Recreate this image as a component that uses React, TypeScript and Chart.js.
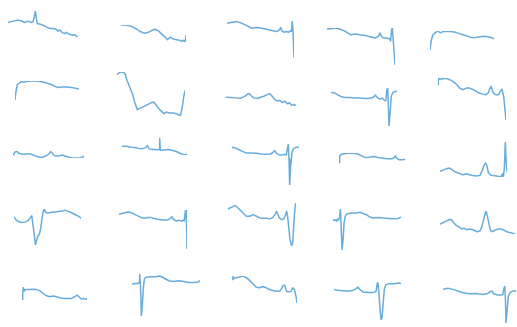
import React, { useEffect, useRef } from "react";
import { Chart, registerables } from "chart.js";

Chart.register(...registerables);

// Each beat is a list of [sample, amplitude] pairs, baseline-relative.
type Pt = [number, number];

const beat01: Pt[] = [[0,0],[15,4],[30,7],[40,5],[50,0],[60,4],[70,0],[75,2],[79,17],[82,34],[85,12],[88,-3],[100,-6],[115,-13],[125,-18],[135,-18],[145,-20],[150,-26],[155,-22],[163,-30],[170,-33],[175,-29],[183,-35],[190,-36],[195,-38],[200,-36],[205,-41],[210,-43]];
const beat02: Pt[] = [[0,0],[18,-1],[33,-5],[48,-13],[58,-20],[70,-25],[83,-22],[93,-17],[103,-13],[113,-18],[123,-28],[133,-37],[140,-45],[148,-37],[158,-43],[168,-45],[178,-47],[183,-50],[188,-47],[193,-52],[196,-33]];
const beat03: Pt[] = [[0,0],[15,3],[30,5],[45,0],[60,-7],[75,-15],[90,-13],[105,-15],[120,-18],[135,-22],[150,-25],[158,-20],[162,-13],[166,-23],[172,-27],[180,-25],[186,-27],[190,-23],[194,-25],[197,7],[199,-25],[202,-105]];
const beat04: Pt[] = [[0,0],[13,1],[28,3],[43,-2],[58,-9],[70,-17],[83,-15],[98,-17],[113,-19],[128,-23],[143,-27],[153,-22],[158,-12],[163,-22],[168,-27],[178,-27],[186,-29],[190,-35],[193,-2],[195,3],[198,-37],[203,-107]];
const beat05: Pt[] = [[0,0],[3,25],[8,45],[16,53],[23,58],[31,52],[38,56],[53,57],[73,55],[88,50],[103,45],[118,40],[131,37],[143,40],[163,42],[183,38],[191,34]];
const beat06: Pt[] = [[0,0],[3,25],[7,45],[13,50],[20,55],[27,52],[35,55],[50,56],[65,56],[80,54],[95,50],[110,45],[120,40],[130,37],[140,38],[155,38],[170,37],[180,35],[192,32]];
const beat07: Pt[] = [[0,0],[8,6],[18,7],[24,2],[30,-18],[40,-43],[48,-63],[53,-83],[61,-106],[73,-100],[88,-93],[103,-85],[110,-83],[118,-93],[128,-106],[141,-118],[148,-113],[158,-116],[168,-116],[178,-118],[190,-125],[196,-98],[200,-68],[204,-50]];
const beat08: Pt[] = [[0,0],[13,-1],[28,-2],[43,-3],[53,1],[63,8],[68,13],[75,5],[83,-2],[93,-4],[103,0],[113,3],[123,8],[131,11],[138,3],[145,-7],[153,-11],[161,-10],[168,-17],[175,-12],[183,-20],[190,-17],[196,-25],[203,-22],[209,-27]];
const beat09: Pt[] = [[0,0],[12,-2],[22,-8],[32,-13],[42,-15],[57,-15],[72,-17],[87,-17],[102,-18],[112,-18],[122,-17],[129,-13],[134,-8],[139,-15],[147,-20],[155,-17],[160,-23],[165,-25],[169,10],[171,13],[173,-40],[175,-100],[179,-50],[182,-10],[187,0],[193,2],[199,3]];
const beat10: Pt[] = [[0,0],[1,20],[5,16],[15,18],[25,19],[35,15],[45,10],[55,2],[65,-10],[75,-15],[85,-10],[95,-10],[108,-15],[120,-23],[135,-28],[145,-30],[152,-23],[157,-10],[160,-5],[163,-15],[167,-25],[175,-30],[182,-30],[188,-20],[193,-13],[198,-35],[202,-75],[205,-105]];
const beat11: Pt[] = [[0,0],[5,8],[10,12],[18,5],[28,2],[40,3],[50,4],[60,0],[70,-4],[80,-7],[90,-6],[100,-2],[107,3],[112,10],[117,6],[123,-2],[132,-3],[140,-2],[147,0],[155,-3],[165,-6],[175,-8],[185,-9],[200,-9],[208,-6],[212,-3]];
const beat12: Pt[] = [[0,0],[13,0],[28,-3],[43,-5],[58,-8],[70,-5],[76,2],[81,-8],[91,-10],[101,-10],[108,-11],[111,-10],[113,24],[115,-13],[123,-11],[138,-10],[153,-13],[168,-18],[178,-23],[188,-26],[195,-23]];
const beat13: Pt[] = [[0,0],[13,-3],[23,-8],[33,-13],[43,-17],[58,-17],[73,-18],[88,-20],[103,-21],[115,-20],[121,-17],[128,-10],[133,-17],[141,-23],[151,-23],[158,-21],[163,-23],[167,0],[169,10],[171,-35],[173,-113],[176,-55],[180,-15],[185,-3],[193,0],[201,0]];
const beat14: Pt[] = [[0,0],[2,20],[7,27],[17,29],[27,30],[37,31],[47,30],[57,28],[67,23],[77,18],[87,17],[97,19],[107,20],[117,17],[132,15],[147,13],[160,13],[167,17],[170,22],[174,15],[182,10],[192,10],[199,12]];
const beat15: Pt[] = [[0,0],[15,6],[27,10],[35,6],[45,-2],[55,-5],[67,-10],[80,-8],[95,-12],[110,-14],[120,-12],[127,3],[133,20],[137,25],[141,16],[145,-4],[153,-12],[170,-14],[183,-17],[187,-7],[190,-17],[193,8],[196,88],[198,38],[201,-2]];
const beat16: Pt[] = [[0,0],[6,-8],[13,-13],[23,-16],[33,-15],[43,-10],[50,0],[53,4],[56,-18],[60,-48],[64,-83],[68,-68],[71,-56],[76,-50],[80,-33],[83,-8],[86,12],[90,24],[93,17],[98,12],[113,14],[128,16],[143,18],[153,20],[163,17],[173,12],[183,7],[193,2],[200,-3]];
const beat17: Pt[] = [[0,0],[12,3],[27,7],[37,5],[47,0],[57,-5],[67,-10],[77,-12],[87,-10],[97,-10],[107,-13],[117,-15],[132,-17],[147,-17],[154,-13],[159,-7],[164,-15],[172,-20],[182,-18],[190,-21],[194,-17],[197,-20],[200,10],[202,13],[204,-45],[205,-105]];
const beat18: Pt[] = [[0,0],[10,5],[20,10],[27,6],[35,-2],[45,-12],[55,-22],[65,-22],[75,-17],[85,-22],[95,-27],[105,-28],[115,-28],[125,-30],[133,-27],[140,-17],[145,-7],[148,-14],[153,-27],[160,-32],[167,-30],[172,-17],[175,-7],[178,-22],[181,-52],[185,-92],[190,-112],[193,-102],[195,-72],[198,-22],[201,13],[203,18]];
const beat19: Pt[] = [[0,0],[5,2],[10,-2],[13,4],[16,0],[20,12],[22,34],[24,-8],[27,-88],[30,-58],[33,-8],[37,14],[42,20],[55,22],[70,22],[82,24],[92,20],[100,17],[110,10],[120,7],[135,9],[150,7],[165,6],[180,5],[195,6],[203,10]];
const beat20: Pt[] = [[0,0],[10,5],[20,10],[30,15],[35,13],[40,5],[50,-5],[60,-10],[65,-15],[72,-12],[80,-17],[90,-15],[100,-18],[105,-20],[112,-23],[120,-20],[125,-10],[130,10],[135,30],[138,40],[142,25],[147,0],[152,-20],[158,-23],[165,-18],[175,-15],[185,-15],[195,-20],[205,-25],[215,-27],[225,-30]];
const beat21: Pt[] = [[0,0],[2,25],[4,40],[7,28],[12,32],[22,32],[34,33],[44,32],[54,28],[64,20],[74,13],[84,10],[94,12],[104,10],[114,7],[124,5],[134,5],[149,5],[159,10],[166,15],[172,10],[179,3],[186,5],[192,0],[196,5]];
const beat22: Pt[] = [[0,0],[10,2],[18,2],[21,5],[23,30],[26,-20],[28,-95],[31,-60],[34,-10],[37,15],[41,20],[55,22],[70,22],[83,24],[95,18],[110,10],[125,8],[140,10],[155,8],[170,5],[185,5],[197,6],[203,10]];
const beat23: Pt[] = [[0,0],[3,10],[6,3],[13,5],[23,7],[33,10],[43,5],[53,-3],[63,-13],[73,-23],[83,-25],[93,-21],[103,-25],[113,-30],[123,-33],[133,-35],[143,-35],[148,-30],[153,-20],[158,-17],[161,-25],[165,-35],[171,-37],[178,-35],[183,-25],[188,-30],[193,-50],[196,-70]];
const beat24: Pt[] = [[0,0],[12,-2],[32,-4],[47,-4],[57,-2],[67,3],[72,8],[77,1],[87,-7],[102,-9],[117,-9],[127,-5],[130,18],[132,23],[135,-7],[139,-62],[142,-92],[145,-84],[148,-42],[152,3],[157,15],[167,18],[182,18],[197,20],[202,18]];
const beat25: Pt[] = [[0,0],[15,3],[30,0],[45,-5],[60,-10],[80,-13],[100,-12],[120,-15],[135,-12],[142,-7],[148,-5],[152,-13],[165,-17],[175,-17],[180,-15],[184,5],[186,10],[188,-25],[190,-100],[193,-65],[197,-20],[202,-10],[210,-5],[220,-5]];

const BEATS: Pt[][] = [
  beat01, beat02, beat03, beat04, beat05,
  beat06, beat07, beat08, beat09, beat10,
  beat11, beat12, beat13, beat14, beat15,
  beat16, beat17, beat18, beat19, beat20,
  beat21, beat22, beat23, beat24, beat25,
];

// Page position (px) of each panel's first sample.
const ORIGINS: [number, number][] = [
  [8.3, 22.3], [120.7, 25], [226.7, 23.3], [327.3, 29.3], [430.3, 50],
  [15, 99.3], [117.3, 74], [225.7, 97], [331, 92.7], [438, 85],
  [13.3, 155], [122.3, 145.7], [232.3, 147], [339.3, 163.7], [439.7, 171],
  [14, 216.7], [119.3, 214.3], [228.3, 208.7], [333.3, 220], [440, 224.3],
  [22, 300], [131.7, 284], [232.3, 279], [334, 289.3], [443.3, 289],
];

// Data units per screen pixel, shared by every panel on both axes.
const UNITS_PER_PX = 3;
const PAD = 3;
const LINE_COLOR = "#68acdc";
const LINE_WIDTH = 1.5;

function Sparkline({ data, origin }: { data: Pt[]; origin: [number, number] }) {
  const ref = useRef<HTMLCanvasElement>(null);
  const ts = data.map((d) => d[0]);
  const vs = data.map((d) => d[1]);
  const tMax = Math.max(...ts);
  const vMin = Math.min(...vs);
  const vMax = Math.max(...vs);
  const left = origin[0] - PAD;
  const top = origin[1] - vMax / UNITS_PER_PX - PAD;
  const width = Math.round(tMax / UNITS_PER_PX + 2 * PAD);
  const height = Math.round((vMax - vMin) / UNITS_PER_PX + 2 * PAD);

  useEffect(() => {
    if (!ref.current) return;
    const chart = new Chart(ref.current, {
      type: "line",
      data: {
        datasets: [
          {
            data: data.map(([t, v]) => ({ x: t, y: v })),
            borderColor: LINE_COLOR,
            borderWidth: LINE_WIDTH,
            borderJoinStyle: "round",
            borderCapStyle: "round",
            pointRadius: 0,
            tension: 0,
            fill: false,
          },
        ],
      },
      options: {
        animation: false,
        responsive: false,
        events: [],
        layout: { padding: PAD },
        plugins: { legend: { display: false }, tooltip: { enabled: false } },
        scales: {
          x: { type: "linear", display: false, min: 0, max: tMax },
          y: { type: "linear", display: false, min: vMin, max: vMax },
        },
      },
    });
    return () => chart.destroy();
  }, [data, tMax, vMin, vMax]);

  return (
    <canvas
      ref={ref}
      width={width}
      height={height}
      style={{ position: "absolute", left, top, width, height }}
    />
  );
}

export default function App() {
  return (
    <div
      style={{
        position: "fixed",
        left: 0,
        top: 0,
        width: 517,
        height: 327,
        background: "#ffffff",
        overflow: "hidden",
      }}
    >
      {BEATS.map((beat, i) => (
        <Sparkline key={i} data={beat} origin={ORIGINS[i]} />
      ))}
    </div>
  );
}
